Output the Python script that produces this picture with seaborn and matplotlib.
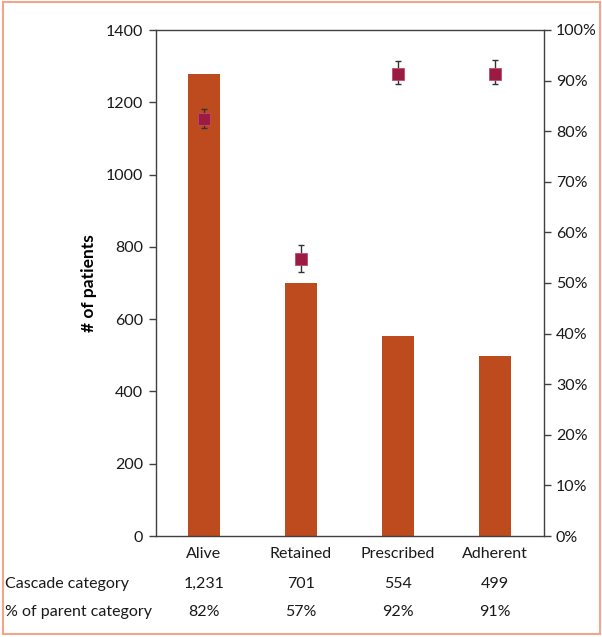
import matplotlib
matplotlib.use("Agg")
import matplotlib.pyplot as plt
import matplotlib.patches as mpatches
from matplotlib.ticker import PercentFormatter, MultipleLocator
import seaborn as sns
import pandas as pd

categories = ["Alive", "Retained", "Prescribed", "Adherent"]
patients = [1278, 701, 553, 499]
pct = [82.4, 54.8, 91.4, 91.4]
pct_lo = [80.6, 52.1, 89.4, 89.4]
pct_hi = [84.4, 57.6, 93.9, 94.1]
cascade_counts = ["1,231", "701", "554", "499"]
parent_pct = ["82%", "57%", "92%", "91%"]
row_labels = ["Cascade category", "% of parent category"]

BAR = "#BE4B1E"
MARK = "#9C1B42"
AXC = "#404040"
TXT = "#1a1a1a"
FONT = "Lato"

sns.set_style("white")
plt.rcParams["font.family"] = [FONT, "DejaVu Sans"]

W, H = 602, 637
fig = plt.figure(figsize=(W / 100, H / 100), dpi=100)
ax = fig.add_axes([155.5 / W, 1 - 536 / H, (543.5 - 155.5) / W, (536 - 30) / H])

df = pd.DataFrame({"cat": categories, "n": patients})
sns.barplot(data=df, x="cat", y="n", color=BAR, width=0.32, saturation=1, ax=ax,
            edgecolor="none")
ax.set_xlim(-0.5, 3.5)
ax.set_ylim(0, 1400)
ax.yaxis.set_major_locator(MultipleLocator(200))
ax.set_xlabel("")
ax.set_ylabel("# of patients", fontsize=12.5, fontweight="bold", labelpad=6, color="black")
ax.tick_params(axis="y", direction="out", length=5, width=1, color=AXC, labelsize=11.5,
               left=True, pad=4, labelcolor=TXT)
ax.tick_params(axis="x", length=0, labelsize=11.5, pad=8, labelcolor=TXT)
for s in ["left", "bottom", "top"]:
    ax.spines[s].set_visible(True)
    ax.spines[s].set_color(AXC)
    ax.spines[s].set_linewidth(1)
ax.spines["right"].set_visible(False)

ax2 = ax.twinx()
pdf = pd.DataFrame({"cat": categories, "pct": [p / 100 for p in pct]})
lo_err = [(p - l) / 100 for p, l in zip(pct, pct_lo)]
hi_err = [(h - p) / 100 for p, h in zip(pct, pct_hi)]
ax2.errorbar(range(len(categories)), pdf["pct"], yerr=[lo_err, hi_err], fmt="none",
             ecolor="#333333", elinewidth=1.0, capsize=2.5, capthick=1.0, zorder=2)
sns.scatterplot(data=pdf, x="cat", y="pct", marker="s", s=75, color=MARK,
                edgecolor="#C04A6C", linewidth=0.6, ax=ax2, zorder=3)
ax2.set_ylim(0, 1)
ax2.set_xlim(-0.5, 3.5)
ax2.yaxis.set_major_locator(MultipleLocator(0.1))
ax2.yaxis.set_major_formatter(PercentFormatter(1.0, decimals=0))
ax2.set_ylabel("")
ax2.set_xlabel("")
ax2.tick_params(axis="y", direction="out", length=5, width=1, color=AXC, labelsize=11.5,
                right=True, pad=4, labelcolor=TXT)
for s in ["left", "bottom", "top"]:
    ax2.spines[s].set_visible(False)
ax2.spines["right"].set_visible(True)
ax2.spines["right"].set_color(AXC)
ax2.spines["right"].set_linewidth(1)

# table rows below the chart
xc = [204, 301, 398, 495]
rows_y = [584, 612]
for y, lab, vals in zip(rows_y, row_labels, [cascade_counts, parent_pct]):
    fig.text(5 / W, 1 - y / H, lab, ha="left", va="center", fontsize=11.5, color=TXT)
    for x, v in zip(xc, vals):
        fig.text(x / W, 1 - y / H, v, ha="center", va="center", fontsize=11.5, color=TXT)

border = mpatches.Rectangle((2.5 / W, 1 - 634 / H), (599.5 - 2.5) / W, (634 - 2) / H,
                            transform=fig.transFigure, fill=False, edgecolor="#F4A48A",
                            linewidth=1.5)
fig.patches.append(border)

fig.savefig("out.png", dpi=100)
